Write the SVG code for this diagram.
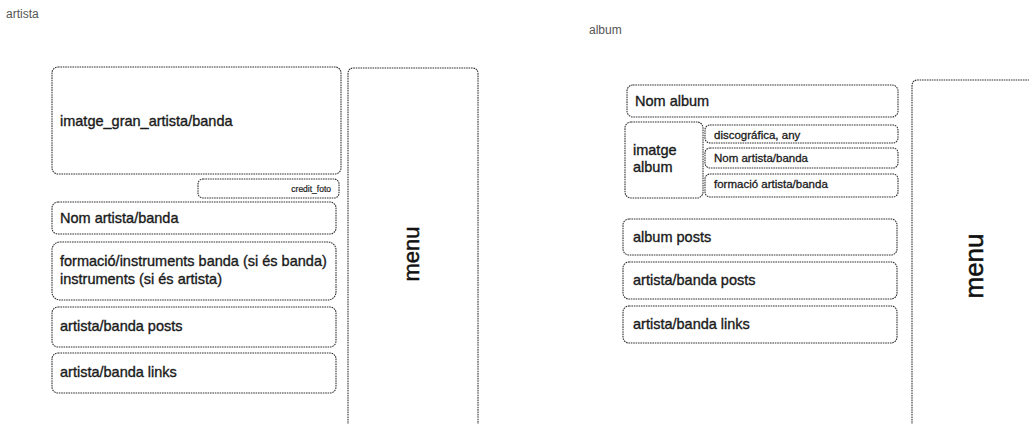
<svg xmlns="http://www.w3.org/2000/svg" width="1029" height="424" viewBox="0 0 1029 424">
<style>
.box{fill:none;stroke:#333;stroke-width:1.1;stroke-dasharray:1.6 0.8}
.t{font-family:"Liberation Sans",Arial,sans-serif;fill:#1a1a1a;stroke:#1a1a1a;stroke-width:0.35;font-size:14.5px}
.s{font-family:"Liberation Sans",Arial,sans-serif;fill:#1a1a1a;stroke:#1a1a1a;stroke-width:0.3;font-size:11.5px}
.h{font-family:"Liberation Sans",Arial,sans-serif;fill:#555;font-size:12px}
.m{font-family:"Liberation Sans",Arial,sans-serif;fill:#111;stroke:#111;stroke-width:0.5;text-anchor:middle}
</style>
<rect width="1029" height="424" fill="#fff"/>
<text class="h" x="6" y="18">artista</text>
<text class="h" x="589" y="34">album</text>

<g id="imatge-gran">
<rect class="box" x="52" y="67" width="289" height="107" rx="6"/>
<text class="t" x="60" y="126">imatge_gran_artista/banda</text>
</g>
<g id="credit-foto">
<rect class="box" x="198" y="179" width="141" height="19" rx="5"/>
<text class="s" x="331" y="192" style="font-size:8.5px;stroke-width:0.2" text-anchor="end">credit_foto</text>
</g>
<g id="nom-artista">
<rect class="box" x="52" y="202" width="284" height="32" rx="6"/>
<text class="t" x="60" y="223">Nom artista/banda</text>
</g>
<g id="formacio">
<rect class="box" x="52" y="242" width="284" height="58" rx="8"/>
<text class="t" x="60" y="266">formació/instruments banda (si és banda)</text>
<text class="t" x="60" y="284">instruments (si és artista)</text>
</g>
<g id="artista-posts">
<rect class="box" x="52" y="307" width="284" height="40" rx="6"/>
<text class="t" x="60" y="331">artista/banda posts</text>
</g>
<g id="artista-links">
<rect class="box" x="52" y="353" width="284" height="40" rx="6"/>
<text class="t" x="60" y="377">artista/banda links</text>
</g>
<g id="menu-left">
<path class="box" d="M348,430 V74 Q348,68 354,68 H472 Q478,68 478,74 V430"/>
<text class="m" transform="translate(419,254) rotate(-90)" style="font-size:22px">menu</text>
</g>

<g id="nom-album">
<rect class="box" x="627" y="85" width="271" height="32" rx="6"/>
<text class="t" x="635" y="106">Nom album</text>
</g>
<g id="imatge-album">
<rect class="box" x="625" y="122" width="78" height="76" rx="6"/>
<text class="t" x="633" y="155">imatge</text>
<text class="t" x="633" y="172">album</text>
</g>
<g id="discografica">
<rect class="box" x="705" y="125" width="193" height="18" rx="5"/>
<text class="s" x="714" y="139">discográfica, any</text>
</g>
<g id="nom-artista-album">
<rect class="box" x="705" y="148" width="193" height="20" rx="5"/>
<text class="s" x="714" y="162">Nom artista/banda</text>
</g>
<g id="formacio-album">
<rect class="box" x="705" y="174" width="193" height="23" rx="5"/>
<text class="s" x="714" y="188">formació artista/banda</text>
</g>
<g id="album-posts">
<rect class="box" x="623" y="219" width="274" height="36" rx="6"/>
<text class="t" x="633" y="242">album posts</text>
</g>
<g id="album-artista-posts">
<rect class="box" x="623" y="262" width="274" height="37" rx="6"/>
<text class="t" x="633" y="285">artista/banda posts</text>
</g>
<g id="album-artista-links">
<rect class="box" x="623" y="306" width="274" height="37" rx="6"/>
<text class="t" x="633" y="329">artista/banda links</text>
</g>
<g id="menu-right">
<path class="box" d="M912,430 V86 Q912,80 918,80 H1035"/>
<text class="m" transform="translate(983,266) rotate(-90)" style="font-size:26px">menu</text>
</g>
<g id="connectors"/>
</svg>
